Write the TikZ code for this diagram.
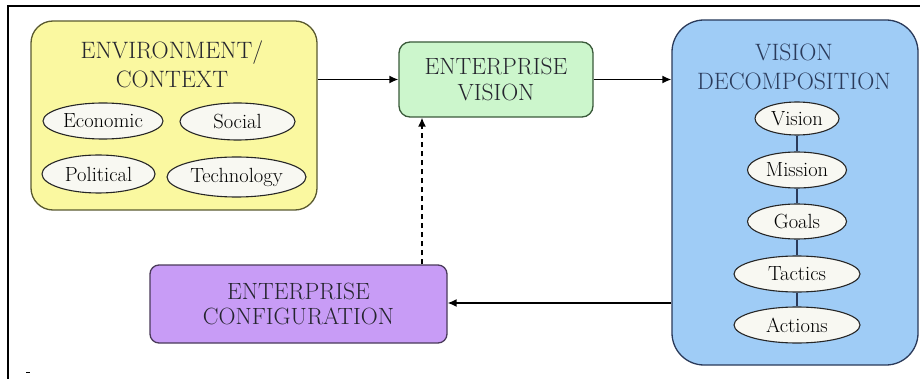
\documentclass[tikz,border=0pt]{standalone}
\usetikzlibrary{shapes.geometric,arrows.meta}
\definecolor{envfill}{HTML}{FAF8A0}
\definecolor{envline}{HTML}{5A5A30}
\definecolor{visfill}{HTML}{CCF6CC}
\definecolor{visline}{HTML}{3A5A3A}
\definecolor{decfill}{HTML}{9FCCF6}
\definecolor{decline}{HTML}{2A3A5A}
\definecolor{cfgfill}{HTML}{C89CF6}
\definecolor{cfgline}{HTML}{4A3A5A}
\definecolor{ovalfill}{HTML}{F8F8F2}
\definecolor{titletext}{HTML}{25252E}
\begin{document}
\begin{tikzpicture}[x=1pt,y=-1pt,
  box/.style={draw, line width=1.3pt, inner sep=0pt, align=center,
    font=\fontsize{23.5}{25.5}\selectfont, text=titletext},
  title/.style={align=center, inner sep=0pt,
    font=\fontsize{23.7}{29}\selectfont, text=titletext},
  oval/.style={ellipse, draw=black!85, line width=1.1pt, fill=ovalfill,
    inner sep=0pt, text=black, font=\fontsize{20.5}{22}\selectfont},
  flow/.style={line width=1.4pt, -{Latex[length=9pt,width=8pt]}},
  link/.style={line width=1.1pt, draw=decline}]
\useasboundingbox (0,0) rectangle (920,379);
\fill[white] (0,0) rectangle (920,379);
% frame
\draw[line width=2.5pt] (920,6) -- (8,6) -- (8,379);
\draw[line width=1pt] (26,372) -- (30,372);

% environment / context
\node[box, fill=envfill, draw=envline, rounded corners=22pt,
  minimum width=286pt, minimum height=189pt] (env) at (174,115.5) {};
\node[title] (envt) at (172,64.5) {ENVIRONMENT/\\CONTEXT};
\node[oval, minimum width=120pt, minimum height=36pt] (eco) at (103,121) {Economic};
\node[oval, minimum width=115pt, minimum height=37pt] (soc) at (237.5,121.5) {Social};
\node[oval, minimum width=113pt, minimum height=38pt] (pol) at (98.5,174) {Political};
\node[oval, minimum width=139pt, minimum height=40pt] (tec) at (236.5,177) {Technology};

% enterprise vision
\node[box, fill=visfill, draw=visline, rounded corners=11pt,
  minimum width=194pt, minimum height=75pt] (vis) at (496,79.5)
  {ENTERPRISE\\VISION};

% vision decomposition
\node[box, fill=decfill, draw=decline, rounded corners=32pt,
  minimum width=246pt, minimum height=345pt] (dec) at (795,192.5) {};
\node[title, text=decline] (dect) at (794,66.5) {VISION\\DECOMPOSITION};
\node[oval, minimum width=84pt, minimum height=33pt] (o1) at (797,118.5) {Vision};
\node[oval, minimum width=99pt, minimum height=36pt] (o2) at (797,170) {Mission};
\node[oval, minimum width=99pt, minimum height=35pt] (o3) at (797,221.5) {Goals};
\node[oval, minimum width=126pt, minimum height=36pt] (o4) at (797,274) {Tactics};
\node[oval, minimum width=126pt, minimum height=36pt] (o5) at (797,325) {Actions};
\draw[link] (o1.south) -- (o2.north);
\draw[link] (o2.south) -- (o3.north);
\draw[link] (o3.south) -- (o4.north);
\draw[link] (o4.south) -- (o5.north);

% enterprise configuration
\node[box, fill=cfgfill, draw=cfgline, rounded corners=9pt,
  minimum width=297pt, minimum height=78pt] (cfg) at (298.5,304)
  {ENTERPRISE\\CONFIGURATION};

% connectors
\coordinate (fb) at (422,200);
\draw[flow] (env.east |- vis.west) -- (vis.west);
\draw[flow] (vis.east) -- (vis.east -| dec.west);
\draw[flow] (dec.west |- 0,303) -- (cfg.east |- 0,303);
\draw[flow, dash pattern=on 5pt off 4pt] (cfg.north -| fb) -- (vis.south -| fb);
\end{tikzpicture}
\end{document}
